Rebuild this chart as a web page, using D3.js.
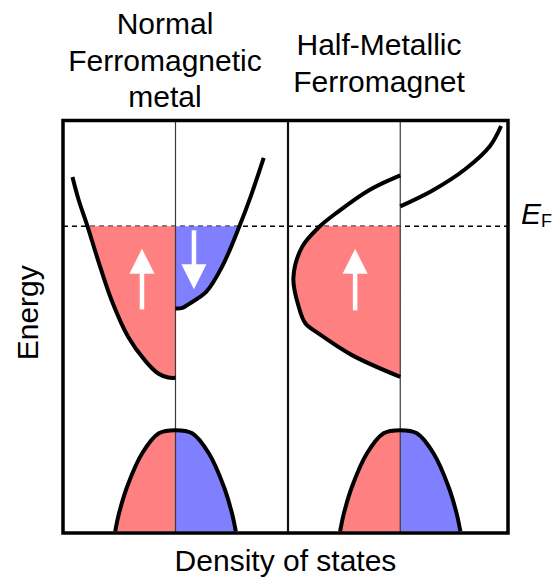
<!DOCTYPE html>
<html>
<head>
<meta charset="utf-8">
<script src="https://cdn.jsdelivr.net/npm/d3@7"></script>
<style>
  body { margin: 0; background: #fff; }
  svg { display: block; }
  text { font-family: "Liberation Sans", Arial, Helvetica, sans-serif; fill: #000; }
</style>
</head>
<body>
<svg id="chart" width="553" height="583"></svg>
<script>
// Energy in arbitrary units, Fermi level at 0. DOS in arbitrary units (magnitudes).
const fermiLevel = 0;
const energyRange = [-10, 3.45];

const panelTitles = [
  ["Normal", "Ferromagnetic", "metal"],
  ["Half-Metallic", "Ferromagnet"]
];
const energyLabel = "Energy";
const dosLabel = "Density of states";

// [energy, DOS] samples for each band
const normalMajority = [[1.61, 4.58], [0.85, 4.30], [0, 3.91], [-1.11, 3.44], [-2.41, 2.84],
                        [-3.61, 2.10], [-4.37, 1.36], [-4.80, 0.77], [-4.93, 0.32], [-4.94, 0]];
const normalMinority = [[-2.68, 0], [-2.66, 0.31], [-2.52, 0.62], [-2.14, 1.36], [-1.27, 2.10],
                        [0, 2.84], [1.01, 3.36], [2.23, 3.92]];
const halfMajority   = [[1.66, 0], [1.17, 1.41], [0.41, 2.89], [0, 3.58], [-0.67, 4.37],
                        [-1.69, 4.76], [-2.63, 4.52], [-3.17, 4.22], [-3.50, 3.63],
                        [-4.20, 2.15], [-4.91, 0]];
const halfMinority   = [[0.65, 0], [1.16, 1.42], [1.86, 2.89], [2.62, 4.00], [3.27, 4.49]];
const valenceBand    = [[-6.65, 0], [-6.75, 0.74], [-7.40, 1.48], [-8.49, 2.15], [-9.36, 2.51], [-9.95, 2.68]];

// spin arrows: panel index, spin, DOS position, energy of tail and tip
const spinArrows = [
  { panel: 0, spin: "up",   dos: 1.49, from: -2.71, to: -0.73 },
  { panel: 0, spin: "down", dos: 0.82, from: -0.13, to: -2.05 },
  { panel: 1, spin: "up",   dos: 2.01, from: -2.74, to: -0.73 }
];

const colors = { up: "#ff8080", down: "#8080ff" };

const svg = d3.select("#chart");
const frame = { left: 63, right: 508, top: 120.5, bottom: 533, divider: 288 };

const y = d3.scaleLinear().domain(energyRange).range([frame.bottom, frame.top]);
const panels = [
  { x: d3.scaleLinear().domain([-5, 5]).range([frame.left, frame.divider]),
    bands: [[normalMajority, "up"], [normalMinority, "down"]] },
  { x: d3.scaleLinear().domain([-5, 4.8]).range([frame.divider, frame.right]),
    bands: [[halfMajority, "up"], [halfMinority, "down"]] }
];
const side = s => (s === "up" ? -1 : 1);
const yF = y(fermiLevel);

// occupied states: everything below the Fermi level
const defs = svg.append("defs");
defs.append("clipPath").attr("id", "occupied")
  .append("rect")
  .attr("x", frame.left).attr("width", frame.right - frame.left)
  .attr("y", yF).attr("height", frame.bottom - yF);

// Fermi level
svg.append("line")
  .attr("x1", frame.left).attr("x2", frame.right)
  .attr("y1", yF).attr("y2", yF)
  .attr("stroke", "#000").attr("stroke-width", 1.5)
  .attr("stroke-dasharray", "5,4");

const curve = d3.curveCatmullRom.alpha(0.5);

panels.forEach(p => {
  const g = svg.append("g");
  const fills = g.append("g").attr("clip-path", "url(#occupied)");
  const allBands = p.bands.concat([[valenceBand, "up"], [valenceBand, "down"]]);

  allBands.forEach(([data, spin]) => {
    const area = d3.area()
      .y(d => y(d[0]))
      .x0(p.x(0))
      .x1(d => p.x(side(spin) * d[1]))
      .curve(curve);
    fills.append("path").attr("d", area(data)).attr("fill", colors[spin]);
  });

  // DOS zero line of the panel
  g.append("line")
    .attr("x1", p.x(0)).attr("x2", p.x(0))
    .attr("y1", frame.top).attr("y2", frame.bottom)
    .attr("stroke", "#3a3a3a").attr("stroke-width", 1.2);

  const line = d3.line().x(d => d[0]).y(d => d[1]).curve(curve);
  const outline = (data, spin) => data.map(d => [p.x(side(spin) * d[1]), y(d[0])]);

  p.bands.forEach(([data, spin]) => {
    g.append("path").attr("d", line(outline(data, spin)))
      .attr("fill", "none").attr("stroke", "#000")
      .attr("stroke-width", 4).attr("stroke-linejoin", "round");
  });
  // valence band: one continuous outline across both spins
  const vb = outline(valenceBand.slice().reverse(), "up")
    .concat(outline(valenceBand.slice(1), "down"));
  g.append("path").attr("d", line(vb))
    .attr("fill", "none").attr("stroke", "#000")
    .attr("stroke-width", 4).attr("stroke-linejoin", "round");
});

// spin arrows
const headLen = 25, headW = 25, shaftW = 4.5;
spinArrows.forEach(a => {
  const p = panels[a.panel];
  const ax = p.x(side(a.spin) * a.dos);
  const y0 = y(a.from), y1 = y(a.to);
  const dir = Math.sign(y1 - y0);
  const yb = y1 - dir * headLen;
  svg.append("line")
    .attr("x1", ax).attr("x2", ax).attr("y1", y0).attr("y2", yb + dir * 1)
    .attr("stroke", "#fff").attr("stroke-width", shaftW);
  svg.append("path")
    .attr("d", `M${ax},${y1}L${ax - headW / 2},${yb}L${ax + headW / 2},${yb}Z`)
    .attr("fill", "#fff");
});

// frame and panel divider
svg.append("line")
  .attr("x1", frame.divider).attr("x2", frame.divider)
  .attr("y1", frame.top).attr("y2", frame.bottom)
  .attr("stroke", "#111").attr("stroke-width", 2.2);
svg.append("rect")
  .attr("x", frame.left).attr("y", frame.top)
  .attr("width", frame.right - frame.left).attr("height", frame.bottom - frame.top)
  .attr("fill", "none").attr("stroke", "#000").attr("stroke-width", 3.5);

// panel titles
const titleX = [165, 379];
const titleBaseline = [34, 55];
panelTitles.forEach((lines, i) => {
  const t = svg.append("text").attr("text-anchor", "middle").attr("font-size", 30);
  lines.forEach((s, j) => {
    t.append("tspan").attr("x", titleX[i]).attr("y", titleBaseline[i] + j * 36.5).text(s);
  });
});

// Fermi level label
const ef = svg.append("text").attr("x", 521).attr("y", 224).attr("font-size", 30);
ef.append("tspan").attr("font-style", "italic").text("E");
ef.append("tspan").attr("font-size", 18).attr("dy", 3).text("F");

// axis titles
svg.append("text")
  .attr("transform", `translate(38,${(frame.top + frame.bottom) / 2 - 14}) rotate(-90)`)
  .attr("text-anchor", "middle").attr("font-size", 30).text(energyLabel);
svg.append("text")
  .attr("x", (frame.left + frame.right) / 2).attr("y", 571)
  .attr("text-anchor", "middle").attr("font-size", 30).text(dosLabel);
</script>
</body>
</html>
